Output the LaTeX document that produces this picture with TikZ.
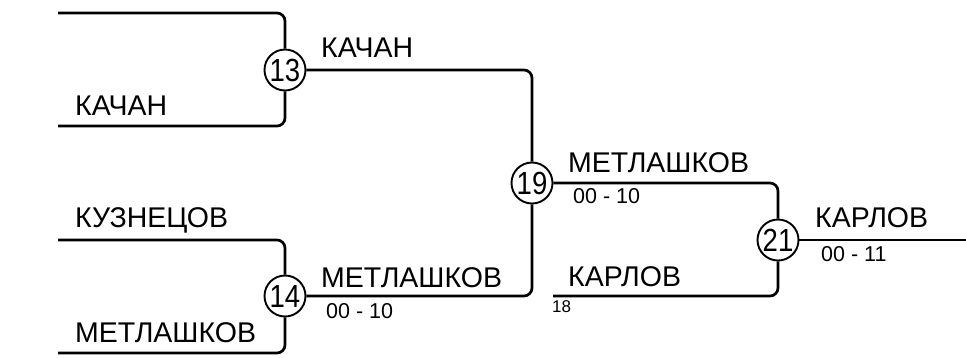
\documentclass[tikz,border=0pt]{standalone}
\usepackage{fontspec}
\setmainfont{Liberation Sans}
\newcommand{\matchnum}[1]{\scalebox{0.86}[1]{#1}}
\begin{document}
\begin{tikzpicture}[x=1pt,y=-1pt,
  match/.style={circle,draw,line width=1.9pt,minimum size=41pt,inner sep=0pt,font=\fontsize{32}{32}\selectfont},
  wire/.style={line width=2.7pt,rounded corners=8pt},
  plname/.style={anchor=base west,inner sep=0pt,font=\fontsize{28.5}{28.5}\selectfont},
  plscore/.style={anchor=base west,inner sep=0pt,font=\fontsize{21.5}{21.5}\selectfont},
  plseed/.style={anchor=base west,inner sep=0pt,font=\fontsize{17}{17}\selectfont}]
\useasboundingbox (0,0) rectangle (966,357);
% matches
\node[match] (m13) at (285,70) {\matchnum{13}};
\node[match] (m14) at (285,296) {\matchnum{14}};
\node[match] (m19) at (532,183) {\matchnum{19}};
\node[match] (m21) at (778,240) {\matchnum{21}};
% free ends
\coordinate (a1) at (58,13);
\coordinate (a2) at (58,126);
\coordinate (b1) at (58,240);
\coordinate (b2) at (58,353);
\coordinate (c2) at (553,296);
\coordinate (fin) at (966,240);
% wires
\draw[wire] (a1) -| (m13.north);
\draw[wire] (a2) -| (m13.south);
\draw[wire] (b1) -| (m14.north);
\draw[wire] (b2) -| (m14.south);
\draw[wire] (m13.east) -| (m19.north);
\draw[wire] (m14.east) -| (m19.south);
\draw[wire] (m19.east) -| (m21.north);
\draw[wire] (c2) -| (m21.south);
\draw[wire] (m21.east) -- (fin);
% labels
\node[plname] (t1) at (75,115) {КАЧАН};
\node[plname] (t2) at (321,57) {КАЧАН};
\node[plname] (t3) at (75,227) {КУЗНЕЦОВ};
\node[plname] (t4) at (75,342) {МЕТЛАШКОВ};
\node[plname] (t5) at (321,287) {МЕТЛАШКОВ};
\node[plscore] (s5) at (326,318) {00 - 10};
\node[plname] (t6) at (568,172) {МЕТЛАШКОВ};
\node[plscore] (s6) at (573,203) {00 - 10};
\node[plname] (t7) at (568,286) {КАРЛОВ};
\node[plseed] (d7) at (552,312) {18};
\node[plname] (t8) at (815,227) {КАРЛОВ};
\node[plscore] (s8) at (821,261) {00 - 11};
\end{tikzpicture}
\end{document}
